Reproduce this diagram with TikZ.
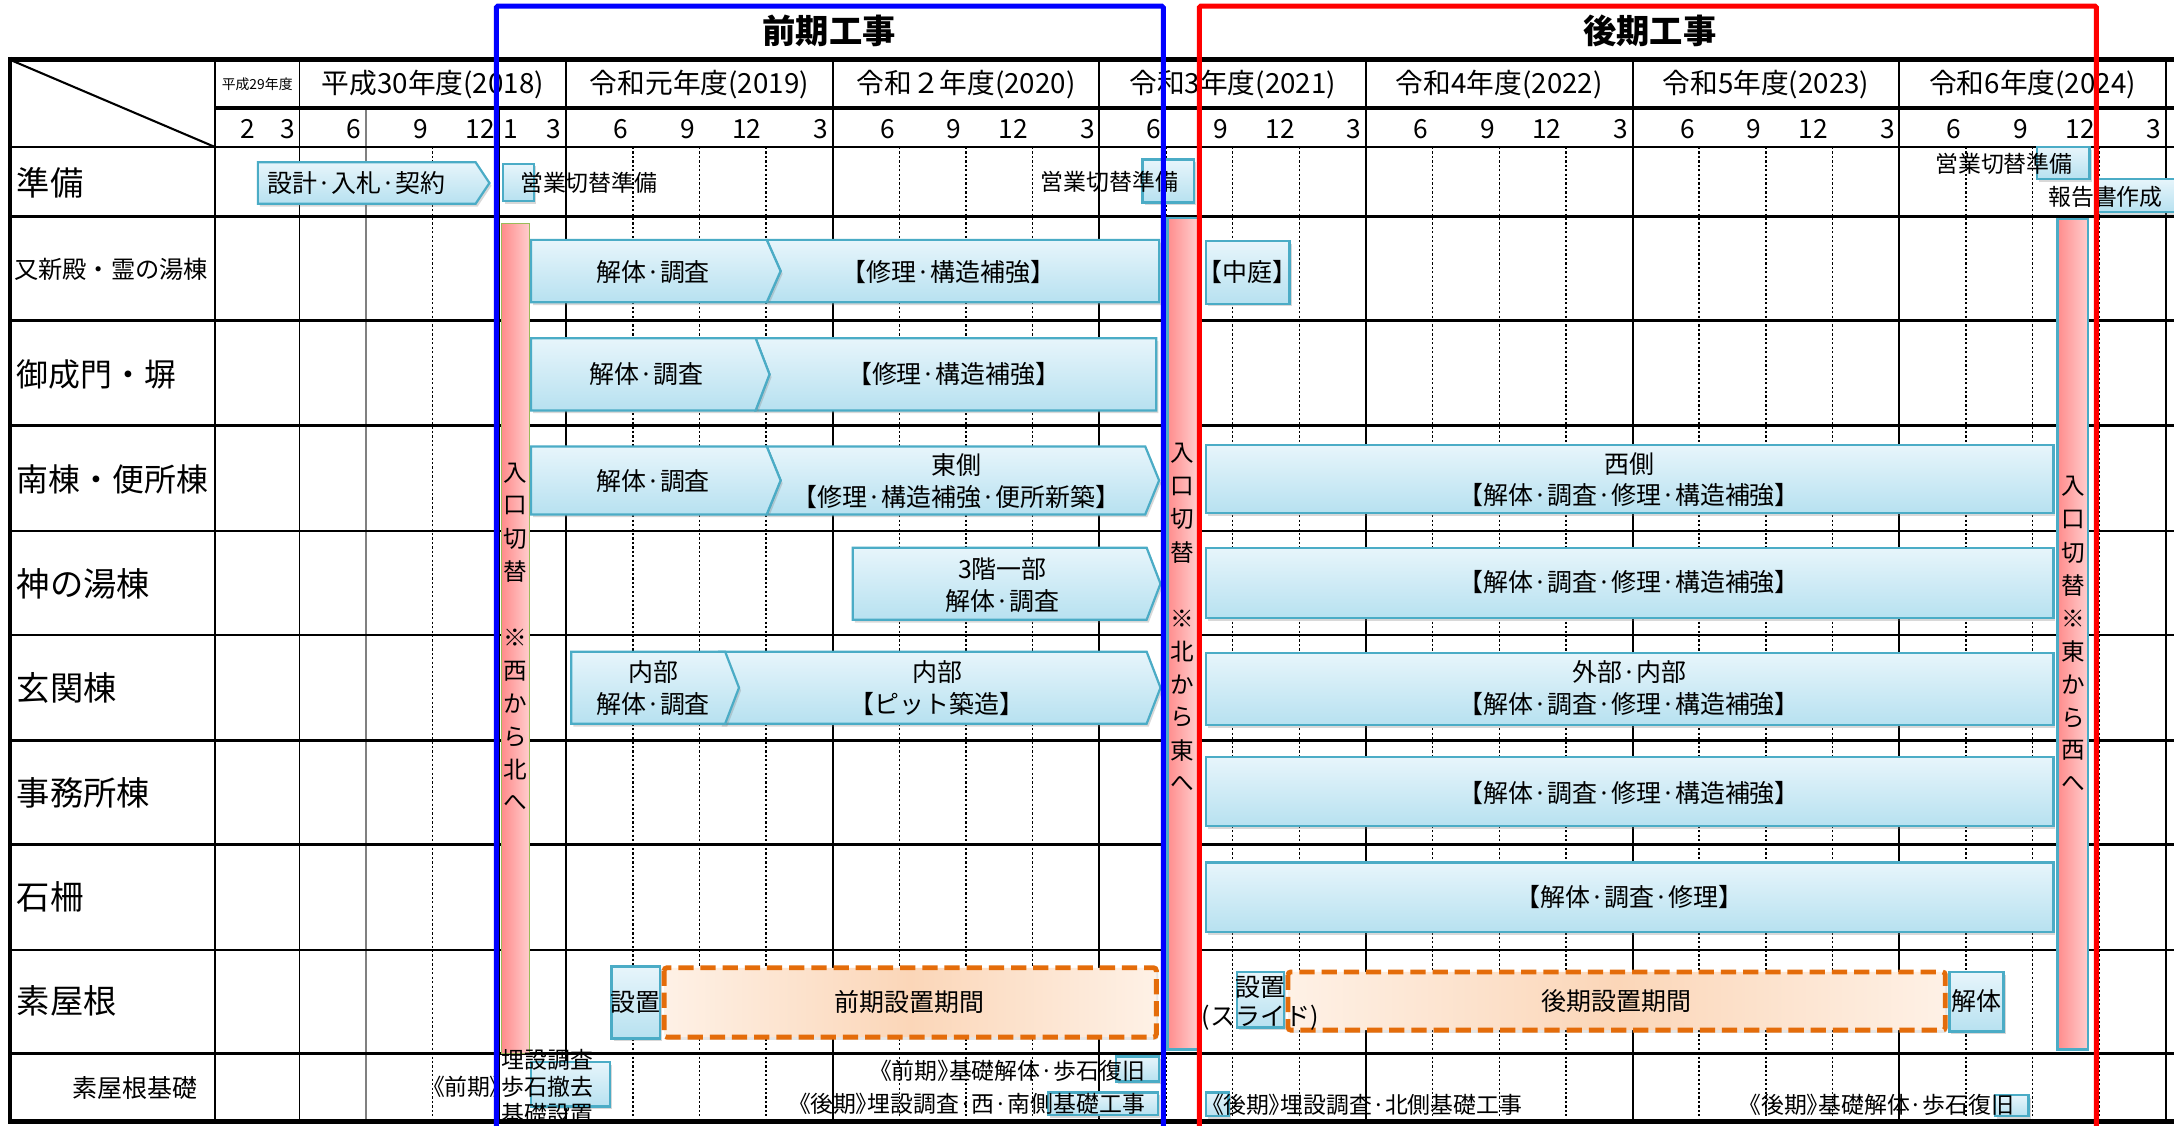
\documentclass[tikz,border=0pt]{standalone}
\usepackage{fontspec}
\setmainfont{Noto Sans CJK JP}
\usetikzlibrary{shadows}
\definecolor{barline}{RGB}{75,172,198}
\definecolor{bartop}{RGB}{231,245,251}
\definecolor{barbot}{RGB}{183,225,240}
\definecolor{pinkL}{RGB}{255,140,140}
\definecolor{pinkR}{RGB}{255,206,206}
\definecolor{pinkedge}{RGB}{155,187,89}
\definecolor{orgline}{RGB}{228,108,10}
\definecolor{orgL}{RGB}{254,241,230}
\definecolor{orgM}{RGB}{251,214,184}
\tikzset{
	bar/.style={draw=barline,line width=1.6pt,top color=bartop,bottom color=barbot,
		drop shadow={shadow xshift=1.5pt,shadow yshift=-2pt,opacity=.3}},
	pinkbar/.style={draw=barline,line width=1.6pt,left color=pinkL,right color=pinkR},
	period/.style={draw=orgline,line width=3.5pt,dash pattern=on 11pt off 5pt,rounded corners=2pt,
		left color=orgL,right color=orgL,middle color=orgM,
		drop shadow={shadow xshift=1.5pt,shadow yshift=-2pt,opacity=.2}},
	btxt/.style={font=\fontsize{18}{23}\selectfont,align=center,inner sep=0pt},
	stxt/.style={font=\fontsize{16.5}{20}\selectfont,inner sep=0pt},
	ftxt/.style={font=\fontsize{16.5}{19.5}\selectfont\addfontfeatures{RawFeature=+palt},inner sep=0pt},
	ptxt/.style={font=\fontsize{17}{18}\selectfont,inner sep=0pt},
	rowlbl/.style={font=\fontsize{24}{26}\selectfont,anchor=west,inner sep=0pt},
	mon/.style={font=\fontsize{19}{20}\selectfont,anchor=east,inner sep=0pt},
	yr/.style={font=\fontsize{20}{22}\selectfont,inner sep=0pt},
	ttl/.style={font=\fontsize{24}{26}\selectfont\bfseries,inner sep=0pt},
	grid/.style={line width=1.3pt},
	qline/.style={line width=1.1pt,dash pattern=on 1.6pt off 1.6pt},
}
\newcommand{\pentbar}[5][]{\draw[bar,#1] (#2,#4) -- ({#3-10},#4) -- (#3,{(#4+#5)/2}) -- ({#3-10},#5) -- (#2,#5) -- cycle;}
\newcommand{\chevbar}[5][]{\draw[bar,#1] (#2,#4) -- ({#3-10},#4) -- (#3,{(#4+#5)/2}) -- ({#3-10},#5) -- (#2,#5) -- ({#2+10},{(#4+#5)/2}) -- cycle;}
\newcommand{\notchbar}[5][]{\draw[bar,#1] (#2,#4) -- (#3,#4) -- (#3,#5) -- (#2,#5) -- ({#2+10},{(#4+#5)/2}) -- cycle;}

\begin{document}
\begin{tikzpicture}[x=1pt,y=-1pt]
	\useasboundingbox (0,0) rectangle (1568,812);
	\clip (0,0) rectangle (1568,812);
	\fill[white] (0,0) rectangle (1568,812);

	% grid
	\foreach \k in {1,...,6}
		\foreach \j in {1,2,3}
			\draw[qline] ({216+192.3*\k+48.07*\j},106) -- ++(0,704);
	\draw[qline] (312,106) -- (312,810);
	\draw[gray,line width=1pt] (264,78) -- (264,810);
	\draw[grid] (360,78) -- (360,810);
	\foreach \k in {1,...,7}
		\draw[grid] ({216+192.3*\k},43) -- ({216+192.3*\k},810);
	\draw[grid] (155,43) -- (155,810);
	\draw[grid] (216,43) -- (216,810);
	\foreach \y in {106,156,231,307,383,458,534,609,685,760}
		\draw[line width=1.8pt] (7,\y) -- (1568,\y);
	\draw[line width=3pt] (155,78) -- (1568,78);
	\draw[line width=3.5pt] (7,43) -- (1568,43);
	\draw[line width=3.5pt] (7,809) -- (1568,809);
	\draw[line width=3pt] (7,41) -- (7,811);
	\draw[line width=1.5pt] (7,43) -- (155,106);

	% header
	\node[ttl] (early) at (598,22) {前期工事};
	\node[ttl] (late) at (1190,22) {後期工事};
	\node[font=\fontsize{10}{11}\selectfont,inner sep=0pt] (h29) at (185.5,61) {平成29年度};
	\foreach \k/\t in {0/平成30年度(2018),1/令和元年度(2019),2/令和２年度(2020),3/令和3年度(2021),4/令和4年度(2022),5/令和5年度(2023),6/令和6年度(2024)}
		\node[yr] (y\k) at ({216+192.3*\k+96.15},61) {\t};
	\node[mon] (m02) at (184,93) {2};
	\node[mon] (m03) at (213,93) {3};
	\node[mon] (m01) at (261,93) {6};
	\node[mon] (m02b) at (309,93) {9};
	\node[mon] (m03b) at (357,93) {12};
	\node[mon,anchor=west] (m0j) at (363,93) {1};
	\node[mon] (m04) at (405,93) {3};
	\foreach \k in {1,...,6}
		\foreach \j/\m in {1/6,2/9,3/12,4/3}
			\node[mon] (m\k\j) at ({216+192.3*\k+48.07*\j-3},93) {\m};

	% rows
	\node[rowlbl] (r0) at (12,132) {準備};
	\node[rowlbl,font=\fontsize{17.5}{19}\selectfont] (r1) at (10,194) {又新殿・霊の湯棟};
	\node[rowlbl,font=\fontsize{23}{26}\selectfont] (r2) at (12,270) {御成門・塀};
	\node[rowlbl,font=\fontsize{23}{26}\selectfont] (r3) at (12,346) {南棟・便所棟};
	\foreach \n/\y/\t in {4/421/神の湯棟,5/496/玄関棟,6/572/事務所棟,7/647/石柵,8/722/素屋根}
		\node[rowlbl] (r\n) at (12,\y) {\t};
	\node[rowlbl,font=\fontsize{18}{19}\selectfont] (r9) at (52,785) {素屋根基礎};

	% 準備
	\pentbar{186}{353}{117}{147}
	\node[btxt] (sekkei) at (257,132) {設計·入札·契約};
	\draw[bar] (363,118) rectangle (385,145);
	\node[stxt,anchor=west] (eig1) at (375,132) {営業切替準備};
	\draw[bar] (824,115) rectangle (861,146);
	\node[stxt,anchor=east] (eig2) at (850,131) {営業切替準備};
	\draw[bar] (1469,106) rectangle (1507,129);
	\node[stxt,anchor=east] (eig3) at (1495,118) {営業切替準備};
	\draw[bar] (1512,129) rectangle (1585,153);
	\node[stxt,anchor=east] (houkoku) at (1560,142) {報告書作成};

	% 前期
	\notchbar{553}{836}{173}{218}
	\pentbar{383}{563}{173}{218}
	\node[btxt] (a1) at (471,196) {解体·調査};
	\node[btxt] (a2) at (684,196) {【修理·構造補強】};
	\notchbar{545}{834}{244}{296}
	\pentbar{383}{555}{244}{296}
	\node[btxt] (b1) at (466,270) {解体·調査};
	\node[btxt] (b2) at (688,270) {【修理·構造補強】};
	\chevbar{553}{836}{322}{371}
	\pentbar{383}{563}{322}{371}
	\node[btxt] (c1) at (471,347) {解体·調査};
	\node[btxt] (c2) at (690,347) {東側\\【修理·構造補強·便所新築】};
	\pentbar{615}{837}{395}{447}
	\node[btxt] (d1) at (723,422) {3階一部\\解体·調査};
	\chevbar{519}{837}{470}{522}
	\pentbar{412}{533}{470}{522}
	\node[btxt] (e1) at (471,496) {内部\\解体·調査};
	\node[btxt] (e2) at (676,496) {内部\\【ピット築造】};

	% 後期
	\draw[bar] (870,174) rectangle (930,219);
	\node[btxt] (f1) at (900,196) {【中庭】};
	\draw[bar] (870,321) rectangle (1481,370);
	\node[btxt] (f3) at (1175,346) {西側\\【解体·調査·修理·構造補強】};
	\draw[bar] (870,395) rectangle (1481,446);
	\node[btxt] (f4) at (1175,420) {【解体·調査·修理·構造補強】};
	\draw[bar] (870,471) rectangle (1481,523);
	\node[btxt] (f5) at (1175,496) {外部·内部\\【解体·調査·修理·構造補強】};
	\draw[bar] (870,546) rectangle (1481,596);
	\node[btxt] (f6) at (1175,572) {【解体·調査·修理·構造補強】};
	\draw[bar] (870,622) rectangle (1481,672);
	\node[btxt] (f7) at (1175,647) {【解体·調査·修理】};

	% 素屋根
	\draw[period] (479,698) rectangle (834,748);
	\draw[bar] (441,697) rectangle (476,749);
	\node[btxt] (g1) at (458.5,723) {設置};
	\node[btxt] (g2) at (656,723) {前期設置期間};
	\draw[period] (929,701) rectangle (1403,743);
	\draw[bar] (892,701) rectangle (926,741);
	\node[btxt] (g3) at (909,712) {設置};
	\node[btxt] (g3b) at (909,734) {(スライド)};
	\node[btxt] (g4) at (1166,722) {後期設置期間};
	\draw[bar] (1406,701) rectangle (1445,744);
	\node[btxt] (g5) at (1425.5,722) {解体};

	% 入口切替
	\draw[pinkbar,draw=pinkedge,line width=.8pt] (362,161) rectangle (382,760);
	\foreach \c [count=\i from 0] in {入,口,切,替,,※,西,か,ら,北,へ}
		\node[ptxt] (pa\i) at (372,{341+23.8*\i}) {\c};
	\draw[pinkbar] (842,157) rectangle (864,757);
	\foreach \c [count=\i from 0] in {入,口,切,替,,※,北,か,ら,東,へ}
		\node[ptxt] (pb\i) at (853,{327+23.8*\i}) {\c};
	\draw[pinkbar] (1484,158) rectangle (1506,757);
	\foreach \c [count=\i from 0] in {入,口,切,替,※,東,か,ら,西,へ}
		\node[ptxt] (pc\i) at (1495,{351+23.8*\i}) {\c};

	% 素屋根基礎
	\draw[bar] (383,766) rectangle (440,798);
	\node[ftxt,align=right,anchor=east] (k1) at (428,784) {埋設調査\\《前期》歩石撤去\\基礎設置};
	\draw[bar] (805,762) rectangle (836,780);
	\node[ftxt,anchor=east] (k2) at (826,772) {《前期》基礎解体·歩石復旧};
	\draw[bar] (756,788) rectangle (835,804);
	\node[ftxt,anchor=east] (k3) at (826,796) {《後期》埋設調査·西·南側基礎工事};
	\draw[bar] (870,788) rectangle (886,805);
	\node[ftxt,anchor=west] (k4) at (874,797) {《後期》埋設調査·北側基礎工事};
	\draw[bar] (1439,790) rectangle (1463,805);
	\node[ftxt,anchor=east] (k5) at (1453,797) {《後期》基礎解体·歩石復旧};

	% 工期の枠
	\draw[blue,line width=3.6pt,rounded corners=1pt] (358,830) -- (358,4.5) -- (839,4.5) -- (839,830);
	\draw[red,line width=3.6pt,rounded corners=1pt] (865,830) -- (865,4.5) -- (1512,4.5) -- (1512,830);
\end{tikzpicture}
\end{document}
